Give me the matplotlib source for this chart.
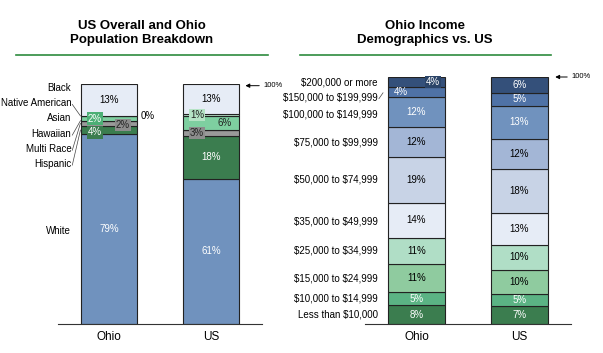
import matplotlib
matplotlib.use("Agg")
import matplotlib.pyplot as plt
from matplotlib.lines import Line2D

plt.rcParams['font.family'] = ['Liberation Sans', 'DejaVu Sans']
plt.rcParams['text.parse_math'] = False  # dollar signs in labels

# ---- data ----
bars = ["Ohio", "US"]

race_names = ["White", "Hispanic", "Multi Race", "Hawaiian", "Asian", "Native American", "Black"]
race_ohio = [79.0, 3.6, 2.1, 0.0, 1.9, 0.2, 13.2]
race_us = [60.6, 17.6, 2.6, 0.2, 5.6, 0.8, 12.6]
race_colors = ["#7092BE", "#3B7D4F", "#9A9A9A", "#5DB585", "#7ECFA0", "#B8E0C8", "#E6ECF6"]

inc_names = ["Less than $10,000", "$10,000 to $14,999", "$15,000 to $24,999",
             "$25,000 to $34,999", "$35,000 to $49,999", "$50,000 to $74,999",
             "$75,000 to $99,999", "$100,000 to $149,999", "$150,000 to $199,999",
             "$200,000 or more"]
inc_ohio = [7.6, 5.4, 11.3, 10.7, 14.0, 18.6, 12.3, 12.1, 4.0, 4.0]
inc_us = [7.2, 5.0, 9.8, 10.0, 12.8, 17.8, 12.4, 13.2, 5.4, 6.4]
inc_colors = ["#3B7D4F", "#5BB384", "#8FCB9F", "#B0DEC6", "#E6ECF6",
              "#C8D3E6", "#A3B6D6", "#7092BE", "#4F72A6", "#34507A"]

W, H = 603, 353
fig = plt.figure(figsize=(W / 100, H / 100), dpi=100)


def stack(ax, vals, x, colors):
    bottom = 0
    mids = []
    for v, c in zip(vals, colors):
        ax.bar(x, v, bottom=bottom, width=0.55, color=c, edgecolor="#222222", linewidth=0.8)
        mids.append(bottom + v / 2)
        bottom += v
    return mids


def style(ax):
    ax.set_xlim(-0.5, 1.5)
    ax.set_ylim(0, 100)
    for s in ["left", "right", "top"]:
        ax.spines[s].set_visible(False)
    ax.spines["bottom"].set_color("#333333")
    ax.spines["bottom"].set_linewidth(0.8)
    ax.set_yticks([])
    ax.set_xticks([0, 1])
    ax.set_xticklabels(bars, fontsize=8.5)
    ax.tick_params(axis="x", length=0, pad=5)


def pct(v):
    return "%d%%" % round(v)


# ---------------- left chart ----------------
ax1 = fig.add_axes([58 / W, 29 / H, 204 / W, 240 / H])
mo = stack(ax1, race_ohio, 0, race_colors)
mu = stack(ax1, race_us, 1, race_colors)
style(ax1)

fs = 7
# Ohio labels
ax1.text(0, mo[0], pct(race_ohio[0]), ha="center", va="center", color="white", fontsize=fs)
ax1.text(0, mo[6], pct(race_ohio[6]), ha="center", va="center", color="black", fontsize=fs)
ax1.text(-0.137, 85.6, pct(race_ohio[4]), ha="center", va="center", color="white", fontsize=fs,
         bbox=dict(boxstyle="square,pad=0.12", fc="#4CAF75", ec="none"))
ax1.text(0.137, 82.9, pct(race_ohio[2]), ha="center", va="center", color="#222222", fontsize=fs,
         bbox=dict(boxstyle="square,pad=0.12", fc="#8C8C8C", ec="none"))
ax1.text(-0.137, 79.8, pct(race_ohio[1]), ha="center", va="center", color="white", fontsize=fs,
         bbox=dict(boxstyle="square,pad=0.12", fc="#3B7D4F", ec="none"))
ax1.text(0.31, mo[5], pct(race_ohio[5]), ha="left", va="center", color="black", fontsize=fs)
# US labels
ax1.text(1, mu[0], pct(race_us[0]), ha="center", va="center", color="white", fontsize=fs)
ax1.text(1, mu[1], pct(race_us[1]), ha="center", va="center", color="white", fontsize=fs)
ax1.text(1, mu[6], pct(race_us[6]), ha="center", va="center", color="black", fontsize=fs)
ax1.text(0.863, mu[5], pct(race_us[5]), ha="center", va="center", color="#222222", fontsize=fs,
         bbox=dict(boxstyle="square,pad=0.12", fc="#B5E3C5", ec="none"))
ax1.text(1.137, mu[4], pct(race_us[4]), ha="center", va="center", color="#222222", fontsize=fs)
ax1.text(0.863, mu[2], pct(race_us[2]), ha="center", va="center", color="#222222", fontsize=fs,
         bbox=dict(boxstyle="square,pad=0.12", fc="#8C8C8C", ec="none"))

# category names on left
race_label_y = [38.8, 66.7, 72.9, 79.2, 85.8, 92.0, 98.3]
lx = -0.37
for name, y in zip(race_names, race_label_y):
    ax1.text(lx, y, name, ha="right", va="center", fontsize=fs, clip_on=False)
# leader lines for thin segments
for i in [1, 2, 3, 5]:
    ax1.plot([lx + 0.01, -0.28], [race_label_y[i] - 0.5, mo[i]], color="#444444",
             lw=0.5, clip_on=False)

ax1.annotate("", xy=(1.31, 99.3), xytext=(1.5, 99.3),
             arrowprops=dict(arrowstyle="-|>", color="black", lw=0.7, mutation_scale=6),
             annotation_clip=False)
ax1.text(1.51, 99.3, "100%", ha="left", va="center", fontsize=5.5, clip_on=False)

# ---------------- right chart ----------------
ax2 = fig.add_axes([365 / W, 29 / H, 206 / W, 247 / H])
io = stack(ax2, inc_ohio, 0, inc_colors)
iu = stack(ax2, inc_us, 1, inc_colors)
style(ax2)

dark = [True, True, False, False, False, False, False, True, True, True]
for i in range(len(inc_names)):
    col = "white" if dark[i] else "black"
    if i < 8:
        ax2.text(0, io[i], pct(inc_ohio[i]), ha="center", va="center", color=col, fontsize=fs)
    ax2.text(1, iu[i], pct(inc_us[i]), ha="center", va="center", color=col, fontsize=fs)
ax2.text(-0.15, io[8], pct(inc_ohio[8]), ha="center", va="center", color="white", fontsize=fs)
ax2.text(0.16, io[9], pct(inc_ohio[9]), ha="center", va="center", color="white", fontsize=fs,
         bbox=dict(boxstyle="square,pad=0.12", fc="#2B4468", ec="none"))

inc_label_y = [4.0, 10.5, 18.6, 29.6, 41.7, 58.3, 73.3, 85.0, 91.5, 97.6]
lx2 = -0.375
for name, y in zip(inc_names, inc_label_y):
    ax2.text(lx2, y, name, ha="right", va="center", fontsize=fs, clip_on=False)
ax2.plot([lx2 + 0.01, lx2 + 0.05], [91.2, 93.6], color="#444444", lw=0.5, clip_on=False)

ax2.annotate("", xy=(1.32, 100), xytext=(1.49, 100),
             arrowprops=dict(arrowstyle="-|>", color="black", lw=0.7, mutation_scale=6),
             annotation_clip=False)
ax2.text(1.5, 100, "100%", ha="left", va="center", fontsize=5.5, clip_on=False)

# ---------------- titles ----------------
fig.text(142 / W, 1 - 33 / H, "US Overall and Ohio\nPopulation Breakdown", ha="center", va="center",
         fontsize=9.5, fontweight="bold", linespacing=1.2)
fig.text(425 / W, 1 - 33 / H, "Ohio Income\nDemographics vs. US", ha="center", va="center",
         fontsize=9.5, fontweight="bold", linespacing=1.2)
fig.add_artist(Line2D([16 / W, 268 / W], [1 - 55 / H, 1 - 55 / H], color="#2E8B3E", lw=1.2))
fig.add_artist(Line2D([300 / W, 551 / W], [1 - 55 / H, 1 - 55 / H], color="#2E8B3E", lw=1.2))

fig.savefig("out.png", dpi=100)
